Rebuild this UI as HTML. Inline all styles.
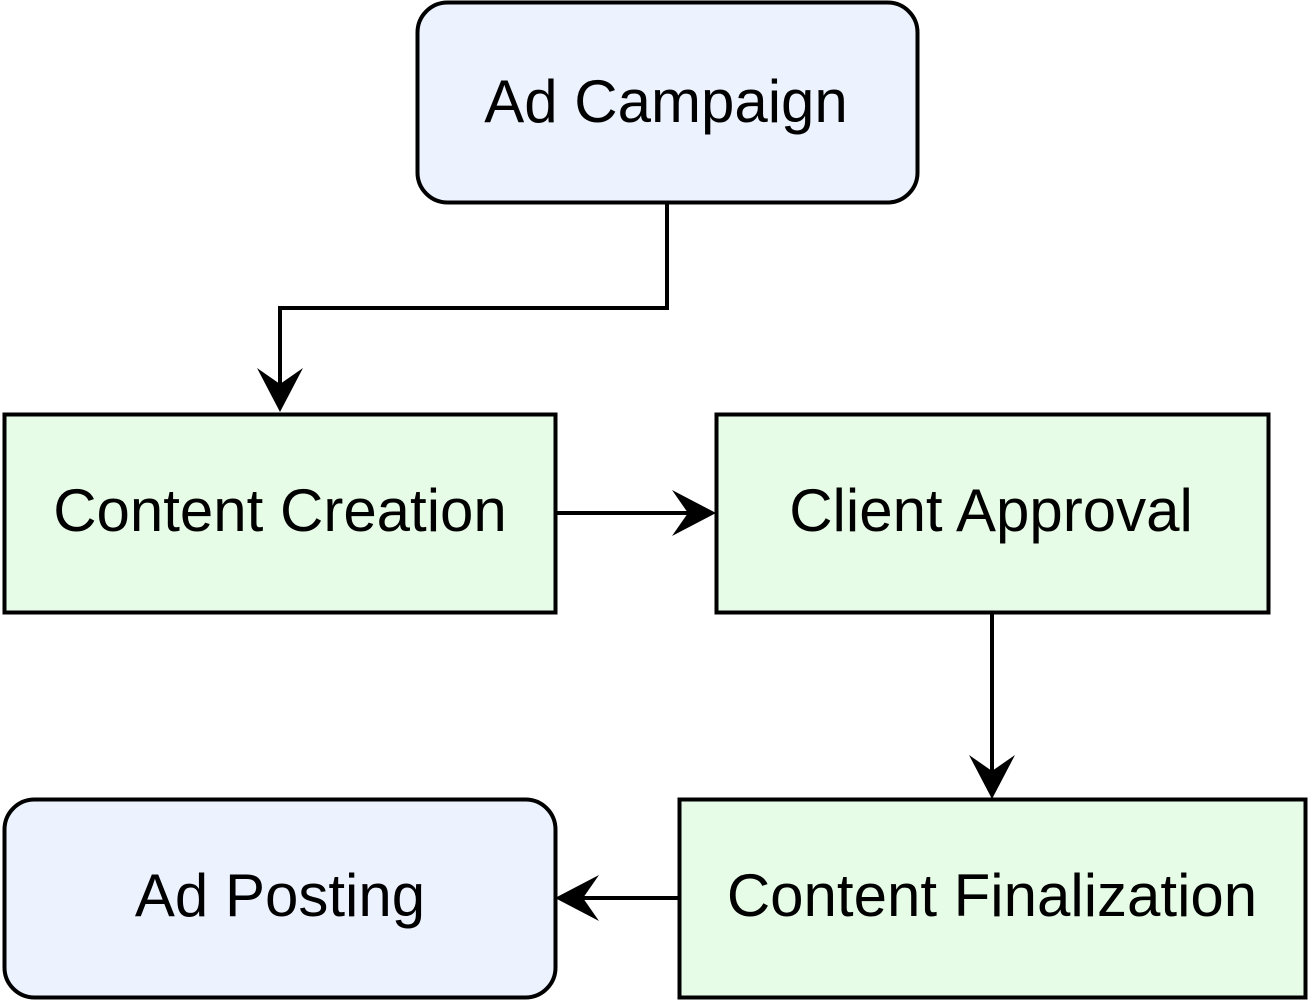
<!DOCTYPE html>
<html><head><style>
html,body{margin:0;padding:0;background:#fff;width:1310px;height:1000px;overflow:hidden}
</style></head><body>
<svg width="1310" height="1000" xmlns="http://www.w3.org/2000/svg" font-family="'Liberation Sans',Helvetica,sans-serif" font-size="60">
<rect x="417.5" y="2.5" width="500" height="200" rx="30" fill="#ECF2FE" stroke="#000" stroke-width="4"/>
<rect x="4.5" y="414.5" width="551" height="198" fill="#E7FCE7" stroke="#000" stroke-width="4"/>
<rect x="716.5" y="414.5" width="552" height="198" fill="#E7FCE7" stroke="#000" stroke-width="4"/>
<rect x="679.5" y="799.5" width="626" height="198" fill="#E7FCE7" stroke="#000" stroke-width="4"/>
<rect x="4.5" y="799.5" width="551" height="198" rx="30" fill="#ECF2FE" stroke="#000" stroke-width="4"/>
<g fill="none" stroke="#000" stroke-width="4">
<path d="M667 202 V308 H280 V385"/>
<path d="M555 513 H690"/>
<path d="M992 612 V773"/>
<path d="M679 898 H582"/>
</g>
<g fill="#000">
<path d="M280 412 L257 368 L280 384 L303 368 Z"/>
<path d="M716 513 L672 490 L688 513 L672 536 Z"/>
<path d="M992 799 L969 755 L992 771 L1015 755 Z"/>
<path d="M555 898 L599 875 L583 898 L599 921 Z"/>
</g>
<g text-anchor="middle" fill="#000">
<text x="666" y="122">Ad Campaign</text>
<text x="280" y="531">Content Creation</text>
<text x="991" y="531">Client Approval</text>
<text x="992" y="916">Content Finalization</text>
<text x="280" y="916">Ad Posting</text>
</g>
</svg>
</body></html>
